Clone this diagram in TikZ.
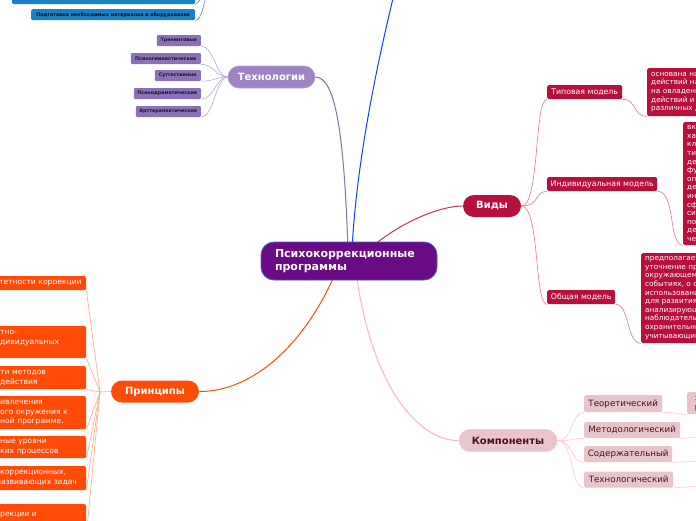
\documentclass[tikz,border=0pt]{standalone}
\usepackage{fontspec}
\setmainfont{DejaVu Sans}
\usetikzlibrary{backgrounds}
\definecolor{cmain}{HTML}{6A0A84}
\definecolor{cmainb}{HTML}{3E5FC8}
\definecolor{ctech}{HTML}{9E84C4}
\definecolor{ctechc}{HTML}{8B71B8}
\definecolor{ctechl}{HTML}{B8A8D8}
\definecolor{corg}{HTML}{FF4A08}
\definecolor{corgl}{HTML}{FFA888}
\definecolor{cvid}{HTML}{B8103C}
\definecolor{cvidl}{HTML}{E07890}
\definecolor{ckom}{HTML}{E8C5CB}
\definecolor{ckomt}{HTML}{4A0E1C}
\definecolor{ckoml}{HTML}{FFC8D4}
\definecolor{cblue}{HTML}{1A80C8}
\definecolor{cbluel}{HTML}{1040FF}
\tikzset{
  x=1pt, y=-1pt,
  mainbox/.style={draw=cmainb, line width=0.8pt, fill=cmain, rounded corners=13pt, text=white,
    font=\bfseries\fontsize{11}{13}\selectfont, align=left, text width=148pt,
    minimum height=38pt, inner xsep=14pt, inner ysep=0pt},
  topic/.style={rounded corners=11pt, font=\bfseries\fontsize{10}{12}\selectfont,
    minimum height=22pt, inner sep=0pt, line width=0.6pt},
  techleaf/.style={fill=ctechc, rounded corners=1pt, text=black!80!ctechc, anchor=east,
    font=\bfseries\fontsize{4.8}{6}\selectfont, minimum height=11pt, inner xsep=1.5pt, inner ysep=0pt},
  orgleaf/.style={fill=corg, rounded corners=1.5pt, text=white, anchor=north west,
    font=\fontsize{7.6}{9.8}\selectfont, align=left, inner xsep=0pt, inner ysep=0pt, text width=96pt},
  vidleaf/.style={fill=cvid, rounded corners=1.5pt, text=white, anchor=north west,
    font=\fontsize{7.8}{9}\selectfont, minimum height=14pt, inner xsep=3pt, inner ysep=0pt},
  vidtext/.style={fill=cvid, rounded corners=1.5pt, text=white, anchor=north west,
    font=\fontsize{7.3}{8.6}\selectfont, align=left, inner xsep=4pt, inner ysep=0pt, text width=80pt},
  komleaf/.style={fill=ckom, rounded corners=1.5pt, text=ckomt, anchor=north west,
    font=\fontsize{8.7}{10}\selectfont, inner xsep=3pt, inner ysep=0pt},
  blueleaf/.style={fill=cblue, rounded corners=1.5pt, text=black!85!cblue, anchor=north west,
    font=\bfseries\fontsize{4.8}{6}\selectfont, inner xsep=3pt, inner ysep=0pt},
  tline/.style={ctechl, line width=0.6pt},
  oline/.style={corgl, line width=0.6pt},
  vline/.style={cvidl, line width=0.6pt},
  kline/.style={ckoml, line width=0.6pt},
}
\begin{document}
\begin{tikzpicture}
\useasboundingbox (0,0) rectangle (696,520);
\clip (0,0) rectangle (696,520);

% ---------- nodes ----------
\node[mainbox] (root) at (349,261) {Психокоррекционные\\программы};

% top-left blue leaves
\node[blueleaf, minimum width=183pt, minimum height=12pt] (bA) at (12,-8) {};
\node[blueleaf, minimum width=164pt, minimum height=11pt] (bB) at (31,9) {Подготовка необходимых материалов и оборудования};
\coordinate (bP) at (212,-30);

% Technologies
\node[topic, fill=ctech, draw=ctech!80!white, text=white, minimum width=87pt] (tech) at (271.5,77) {Технологии};
\node[techleaf, minimum width=44pt] (t1) at (201,40.5) {Тренинговые};
\node[techleaf, minimum width=70pt] (t2) at (201,58.5) {Психогимнастические};
\node[techleaf, minimum width=46pt] (t3) at (201,75.5) {Суггестивные};
\node[techleaf, minimum width=67pt] (t4) at (201,93.5) {Психодраматические};
\node[techleaf, minimum width=65pt] (t5) at (201,111.5) {Арттерапевтическое};

% Principles
\node[topic, fill=corg, text=white, minimum width=88pt] (prin) at (155,391.5) {Принципы};
\node[orgleaf, minimum height=14pt, xshift=-10pt] (p1) at (0,276)
  {\hspace*{9pt}тетности коррекции};
\node[orgleaf, minimum height=32pt, xshift=-10pt] (p2) at (0,326)
  {\hspace*{10pt}тно-\\\hspace*{10pt}дивидуальных\\\mbox{}};
\node[orgleaf, minimum height=23pt, xshift=-10pt] (p3) at (0,366)
  {\hspace*{10pt}ти методов\\\hspace*{10pt}действия};
\node[orgleaf, minimum height=33pt, xshift=-10pt] (p4) at (0,396)
  {\hspace*{10pt}ивлечения\\\hspace*{10pt}ого окружения к\\\hspace*{10pt}ной программе.};
\node[orgleaf, minimum height=22pt, xshift=-10pt] (p5) at (0,436)
  {\hspace*{10pt}ные уровни\\\hspace*{10pt}ких процессов};
\node[orgleaf, minimum height=24pt, xshift=-10pt] (p6) at (0,466)
  {\hspace*{10pt}коррекционных,\\\hspace*{6pt}развивающих задач};
\node[orgleaf, minimum height=30pt, xshift=-10pt] (p7) at (0,504)
  {\hspace*{10pt}рекции и\\\mbox{}};
\coordinate (pj) at (100,392);

% Types
\node[topic, fill=cvid, text=white, minimum width=58pt] (vid) at (492,206) {Виды};
\node[vidleaf, minimum width=75pt] (v1) at (547,85) {Типовая модель};
\node[vidleaf, minimum width=110pt] (v2) at (547,177) {Индивидуальная модель};
\node[vidleaf, minimum width=68pt] (v3) at (547,290) {Общая модель};
\node[vidtext, minimum height=48pt] (v1t) at (647,68)
  {основана на\\действий на\\на овладени\\действий и в\\различных д};
\node[vidtext, minimum height=123pt] (v2t) at (683,122)
  {вк\\ха\\кл\\ти\\де\\фу\\оп\\де\\ин\\сф\\си\\по\\де\\че};
\node[vidtext, minimum height=90pt] (v3t) at (641,253)
  {предполагает\\уточнение пре\\окружающем\\событиях, о с\\использовани\\для развития\\анализирующ\\наблюдательн\\охранительны\\учитывающий};

% Components
\node[topic, fill=ckom, draw=ckoml, text=ckomt, minimum width=98pt] (kom) at (508,440.5) {Компоненты};
\node[komleaf, minimum width=78pt, minimum height=17pt] (k1) at (584,395) {Теоретический};
\node[komleaf, minimum width=96pt, minimum height=16pt] (k2) at (584,422) {Методологический};
\node[komleaf, minimum width=88pt, minimum height=16pt] (k3) at (584,446) {Содержательный};
\node[komleaf, minimum width=89pt, minimum height=16pt] (k4) at (584,471.5) {Технологический};
\node[komleaf, minimum width=20pt, minimum height=22pt, align=left, font=\fontsize{7.5}{9}\selectfont] (k1t) at (687,392) {з\\р};
\coordinate (k2e) at (700,437);
\coordinate (k3e) at (700,461);
\coordinate (k4e) at (700,486);

% ---------- connectors ----------
\begin{scope}[on background layer]
% root -> topics
\draw[cbluel, line width=1pt] (352,250) .. controls (357,150) and (383,40) .. (395,-10);
\draw[ctech!85!black, line width=1pt] (348,250) .. controls (344,130) and (335,77) .. (tech.east);
\draw[cvid!85!white, line width=1pt] (368,250) .. controls (400,222) and (440,206) .. (vid.west);
\draw[ckoml!90!red, line width=1pt] (356,272) .. controls (372,390) and (420,441) .. (kom.west);
\draw[corg, line width=1pt] (336,272) .. controls (300,355) and (245,392) .. (prin.east);

% blue leaves
\draw[cbluel!70!white, line width=0.6pt] (bA.south east) .. controls (200,2) and (203,-5) .. (bP);
\draw[cbluel!70!white, line width=0.6pt] (bB.south east) .. controls (201,20) and (203,10) .. (bP);

% technologies
\foreach \t in {t1,t2,t3,t4,t5}
  \draw[tline] (tech.west) .. controls (216,77) and (214,0|-\t.south east) .. (\t.south east);

% principles
\draw[oline] (prin.west) -- (pj);
\foreach \p in {p1,p2,p3,p4,p5,p6,p7}
  \draw[oline] (pj) -- (\p.south east);

% types
\foreach \v in {v1,v2,v3}
  \draw[vline] (vid.east) .. controls (540,206) and (534,0|-\v.south west) .. (\v.south west);
\draw[vline] (v1.south east) .. controls (637,99) and (632,116) .. (v1t.south west);
\draw[vline] (v2.south east) .. controls (676,191) and (668,245) .. (v2t.south west);
\draw[vline] (v3.south east) .. controls (630,304) and (626,343) .. (v3t.south west);

% components
\foreach \k in {k1,k2,k3,k4}
  \draw[kline] (kom.east) .. controls (574,441) and (570,0|-\k.south west) .. (\k.south west);
\draw[kline] (k1.south east) .. controls (675,412) and (676,414) .. (k1t.south west);
\draw[kline] (k2.south east) -- (k2e);
\draw[kline] (k3.south east) -- (k3e);
\draw[kline] (k4.south east) -- (k4e);
\end{scope}
\end{tikzpicture}
\end{document}
